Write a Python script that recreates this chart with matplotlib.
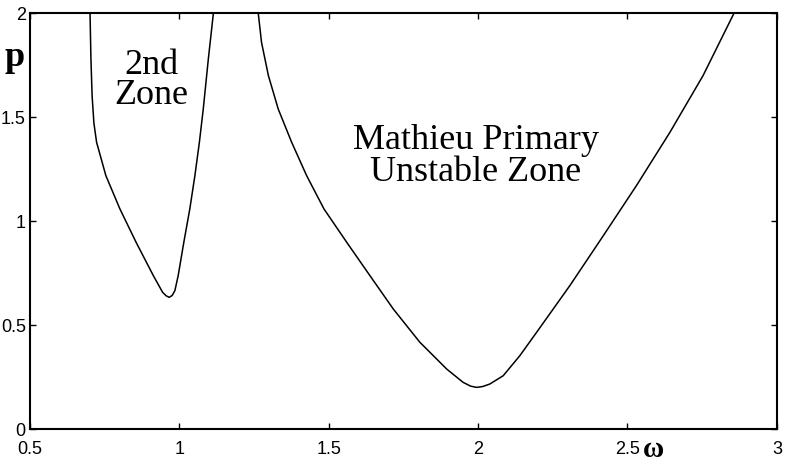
import matplotlib
matplotlib.use("Agg")
import matplotlib.pyplot as plt

# second instability zone (left tongue)
zone2_w = [0.701, 0.704, 0.708, 0.714, 0.723, 0.754, 0.801, 0.855, 0.913, 0.944, 0.956,
           0.966, 0.976, 0.985, 0.996, 1.015, 1.035, 1.052, 1.067, 1.080, 1.097, 1.114]
zone2_p = [2.0, 1.779, 1.600, 1.470, 1.378, 1.218, 1.058, 0.898, 0.737, 0.657, 0.640,
           0.633, 0.642, 0.665, 0.737, 0.898, 1.058, 1.218, 1.378, 1.538, 1.779, 2.0]

# Mathieu primary unstable zone
main_w = [1.264, 1.275, 1.298, 1.331, 1.376, 1.426, 1.484, 1.560, 1.638, 1.716, 1.805,
          1.895, 1.950, 1.975, 1.995, 2.015, 2.039, 2.084, 2.140, 2.196, 2.307, 2.419,
          2.530, 2.642, 2.753, 2.857]
main_p = [2.0, 1.859, 1.699, 1.538, 1.378, 1.218, 1.058, 0.898, 0.737, 0.577, 0.417,
          0.288, 0.224, 0.206, 0.200, 0.204, 0.216, 0.256, 0.353, 0.465, 0.689, 0.929,
          1.170, 1.426, 1.699, 2.0]

x_ticks = [0.5, 1, 1.5, 2, 2.5, 3]
x_labels = ["0.5", "1", "1.5", "2", "2.5", "3"]
y_ticks = [0, 0.5, 1, 1.5, 2]
y_labels = ["0", "0.5", "1", "1.5", "2"]

fig = plt.figure(figsize=(7.87, 4.64), dpi=100)
ax = fig.add_axes([0.0381, 0.0733, 0.949, 0.8966])

ax.plot(zone2_w, zone2_p, color="black", lw=1.1)
ax.plot(main_w, main_p, color="black", lw=1.1)

ax.set_xlim(0.5, 3)
ax.set_ylim(0, 2)
ax.set_xticks(x_ticks)
ax.set_xticklabels(x_labels, family="Liberation Sans", fontsize=13)
ax.set_yticks(y_ticks)
ax.set_yticklabels(y_labels, family="Liberation Sans", fontsize=13)
ax.tick_params(direction="in", length=4, width=1, top=True, right=True)
ax.tick_params(axis="x", pad=8)
ax.tick_params(axis="y", pad=3)
for s in ax.spines.values():
    s.set_linewidth(1.5)

serif = "Liberation Serif"
ax.text(0.905, 1.68, "2nd\nZone", family=serif, fontsize=26, ha="center",
        va="center", linespacing=0.85)
ax.text(1.993, 1.315, "Mathieu Primary\nUnstable Zone", family=serif, fontsize=26,
        ha="center", va="center", linespacing=0.97)

fig.text(15 / 787, 1 - 57 / 464, "p", family=serif, fontsize=26,
         fontweight="bold", ha="center", va="center")
fig.text(653 / 787, 1 / 464, "ω", family=serif, fontsize=21,
         fontweight="bold", ha="center", va="bottom")

fig.savefig("out.png", dpi=100)
